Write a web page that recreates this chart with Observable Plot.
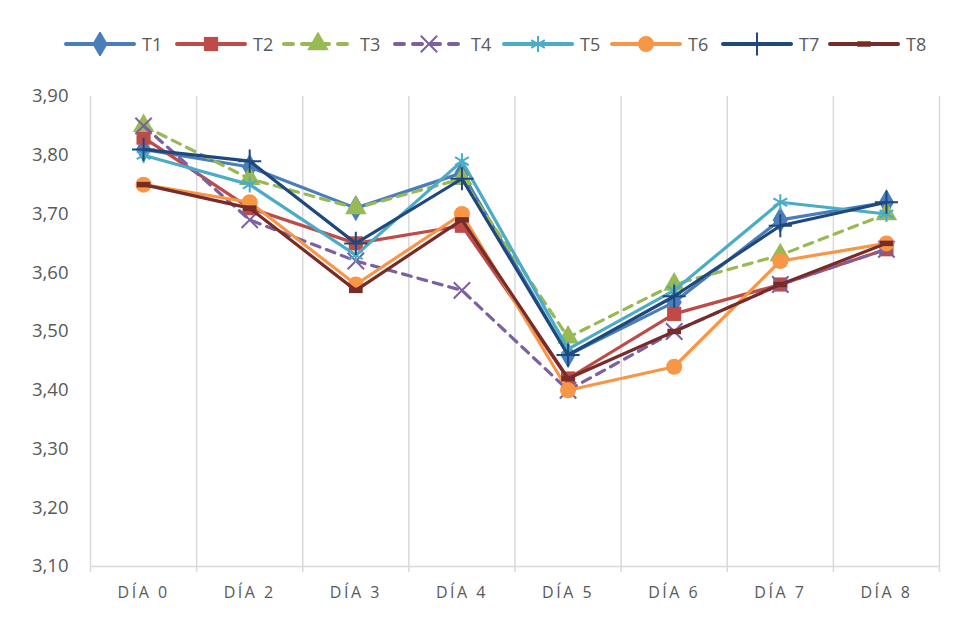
<!DOCTYPE html>
<html>
<head>
<meta charset="utf-8">
<script src="https://cdn.jsdelivr.net/npm/d3@7"></script>
<script src="https://cdn.jsdelivr.net/npm/@observablehq/plot@0.6"></script>
<style>
  html, body { margin: 0; padding: 0; background: #fff; }
  #wrap { position: relative; width: 957px; height: 617px; font-family: "Open Sans", "Noto Sans", sans-serif; }
  #legend { position: relative; height: 80px; }
  .item { position: absolute; top: 32px; display: flex; align-items: center; color: #595959; font-size: 18px; }
  .item svg { display: block; margin-right: 6px; }
  g[aria-label="x-axis tick label"] text { letter-spacing: 2.5px; }
</style>
</head>
<body>
<div id="wrap">
  <div id="legend"></div>
  <div id="chart"></div>
</div>
<script>
const days = ["DÍA 0", "DÍA 2", "DÍA 3", "DÍA 4", "DÍA 5", "DÍA 6", "DÍA 7", "DÍA 8"];
const seriesNames = ["T1", "T2", "T3", "T4", "T5", "T6", "T7", "T8"];
const T1 = [3.81, 3.78, 3.71, 3.77, 3.46, 3.55, 3.69, 3.72];
const T2 = [3.83, 3.71, 3.65, 3.68, 3.42, 3.53, 3.58, 3.64];
const T3 = [3.85, 3.76, 3.71, 3.76, 3.49, 3.58, 3.63, 3.70];
const T4 = [3.85, 3.69, 3.62, 3.57, 3.40, 3.50, 3.58, 3.64];
const T5 = [3.80, 3.75, 3.63, 3.79, 3.47, 3.57, 3.72, 3.70];
const T6 = [3.75, 3.72, 3.58, 3.70, 3.40, 3.44, 3.62, 3.65];
const T7 = [3.81, 3.79, 3.65, 3.76, 3.46, 3.56, 3.68, 3.72];
const T8 = [3.75, 3.71, 3.57, 3.69, 3.42, 3.50, 3.58, 3.65];
const yTicks = [3.10, 3.20, 3.30, 3.40, 3.50, 3.60, 3.70, 3.80, 3.90];

const values = [T1, T2, T3, T4, T5, T6, T7, T8];

// custom dash marker for T8
const dashSymbol = {
  draw(ctx, size) {
    const w = Math.sqrt(size) * 0.55, h = Math.sqrt(size) * 0.22;
    ctx.moveTo(-w, -h); ctx.lineTo(w, -h); ctx.lineTo(w, h); ctx.lineTo(-w, h); ctx.closePath();
  }
};

const styles = [
  {color: "#4A7EBB", symbol: "diamond", filled: true, r: 8, dash: null, d3sym: d3.symbolDiamond},
  {color: "#BE4B48", symbol: "square", filled: true, r: 8, dash: null, d3sym: d3.symbolSquare},
  {color: "#98B954", symbol: "triangle", filled: true, r: 8, dash: "9,7", d3sym: d3.symbolTriangle},
  {color: "#7D60A0", symbol: "times", filled: false, r: 7.5, dash: "9,7", d3sym: d3.symbolTimes},
  {color: "#4BACC6", symbol: "asterisk", filled: false, r: 7.5, dash: null, d3sym: d3.symbolAsterisk},
  {color: "#F79646", symbol: "circle", filled: true, r: 8, dash: null, d3sym: d3.symbolCircle},
  {color: "#1F497D", symbol: "plus", filled: false, r: 7.5, dash: null, d3sym: d3.symbolPlus},
  {color: "#772C2A", symbol: dashSymbol, filled: true, r: 7, dash: null, d3sym: dashSymbol}
];

const rows = [];
seriesNames.forEach((s, k) => {
  days.forEach((d, i) => rows.push({series: s, k, i, day: d, value: values[k][i]}));
});

const bounds = d3.range(days.length + 1).map(i => i - 0.5);
const fmt = v => d3.format(".2f")(v).replace(".", ",");

const marks = [
  Plot.ruleX(bounds, {stroke: "#d9d9d9", strokeWidth: 1.5}),
  Plot.ruleY([3.10], {stroke: "#d9d9d9", strokeWidth: 1.5}),
  Plot.axisX({ticks: bounds, tickSize: 6, tickFormat: () => "", label: null, stroke: "#d9d9d9", strokeWidth: 1.5}),
  Plot.axisX({ticks: d3.range(days.length), tickSize: 0, tickPadding: 20, tickFormat: i => days[i], label: null,
    fontSize: 16, fill: "#595959"}),
  Plot.axisY({ticks: yTicks, tickSize: 0, tickPadding: 22, tickFormat: fmt, label: null, fontSize: 18.5, fill: "#595959"})
];

seriesNames.forEach((s, k) => {
  const st = styles[k];
  const data = rows.filter(r => r.series === s);
  marks.push(Plot.line(data, {x: "i", y: "value", stroke: st.color, strokeWidth: 3.2,
    strokeDasharray: st.dash, strokeLinecap: "round", strokeLinejoin: "round"}));
  marks.push(Plot.dot(data, {x: "i", y: "value", symbol: () => st.symbol, r: st.r,
    fill: st.filled ? st.color : "none", stroke: st.color, strokeWidth: st.filled ? 0 : 2}));
});

const chart = Plot.plot({
  width: 957,
  height: 537,
  marginLeft: 90,
  marginRight: 18,
  marginTop: 16,
  marginBottom: 51,
  style: {fontFamily: "'Open Sans', 'Noto Sans', sans-serif", background: "#fff", overflow: "visible"},
  x: {type: "linear", domain: [-0.5, days.length - 0.5], label: null},
  y: {domain: [3.10, 3.90], label: null},
  symbol: {type: "identity"},
  marks
});
document.getElementById("chart").appendChild(chart);

// legend
const legend = document.getElementById("legend");
const legendStarts = [64, 175, 282, 393, 502, 610, 721, 828];
seriesNames.forEach((s, k) => {
  const st = styles[k];
  const item = document.createElement("div");
  item.className = "item";
  item.style.left = legendStarts[k] + "px";
  const svg = d3.create("svg").attr("width", 72).attr("height", 24);
  svg.append("line").attr("x1", 2).attr("x2", 70).attr("y1", 12).attr("y2", 12)
    .attr("stroke", st.color).attr("stroke-width", 4).attr("stroke-linecap", "round")
    .attr("stroke-dasharray", st.dash ? "9,9" : null);
  svg.append("path").attr("transform", "translate(36,12)")
    .attr("d", d3.symbol(st.d3sym, Math.PI * st.r * st.r)())
    .attr("fill", st.filled ? st.color : "none")
    .attr("stroke", st.filled ? "none" : st.color).attr("stroke-width", 2);
  item.appendChild(svg.node());
  const t = document.createElement("span");
  t.textContent = s;
  item.appendChild(t);
  legend.appendChild(item);
});
</script>
</body>
</html>
